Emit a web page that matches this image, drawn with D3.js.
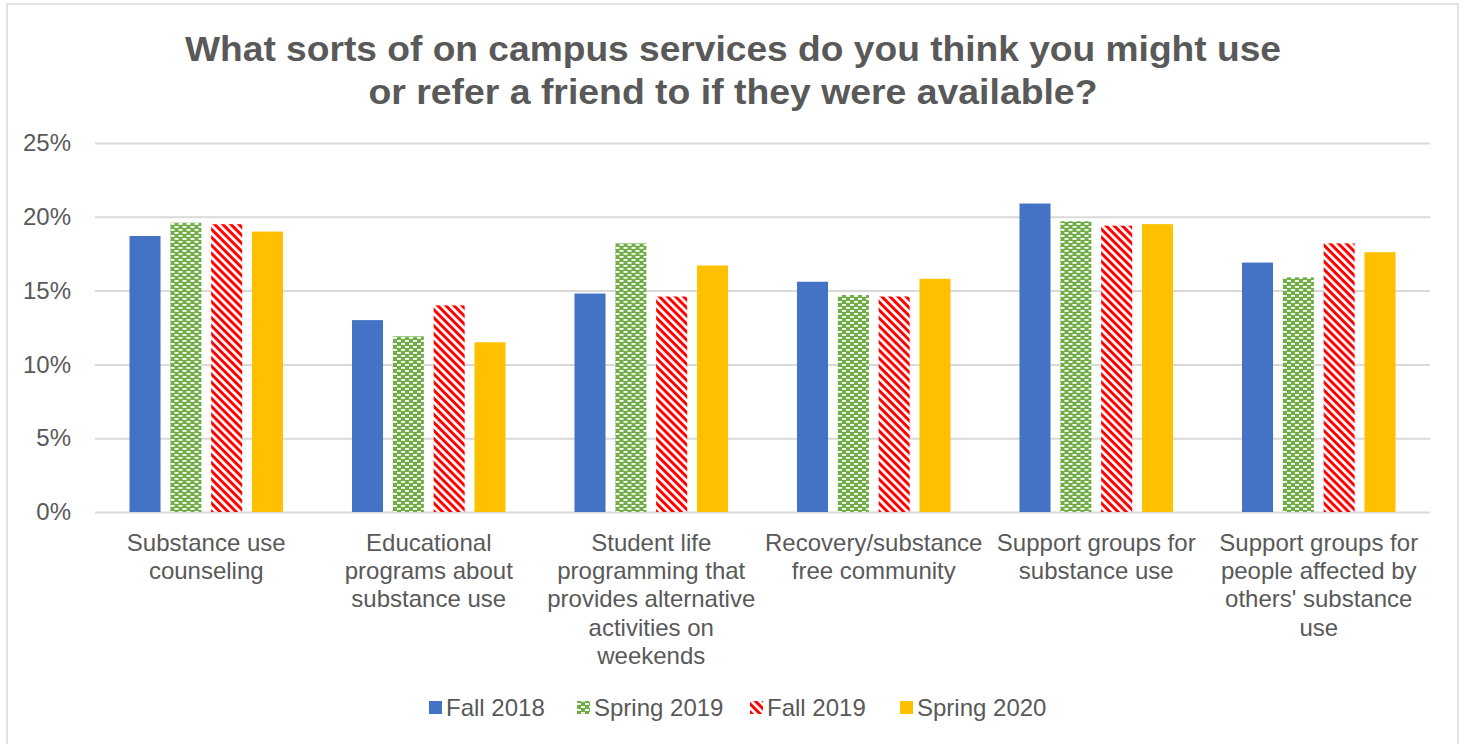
<!DOCTYPE html>
<html>
<head>
<meta charset="utf-8">
<script src="https://cdn.jsdelivr.net/npm/d3@7"></script>
<style>
  html, body { margin: 0; padding: 0; background: #fff; }
  svg { display: block; font-family: "Liberation Sans", Arial, sans-serif; }
</style>
</head>
<body>
<svg id="chart" width="1465" height="744"></svg>
<script>
// Survey responses by category and term
const categories = [
  ["Substance use", "counseling"],
  ["Educational", "programs about", "substance use"],
  ["Student life", "programming that", "provides alternative", "activities on", "weekends"],
  ["Recovery/substance", "free community"],
  ["Support groups for", "substance use"],
  ["Support groups for", "people affected by", "others' substance", "use"]
];
const seriesNames = ["Fall 2018", "Spring 2019", "Fall 2019", "Spring 2020"];
const fall2018   = [0.187, 0.130, 0.148, 0.156, 0.209, 0.169];
const spring2019 = [0.196, 0.119, 0.182, 0.147, 0.197, 0.159];
const fall2019   = [0.195, 0.140, 0.146, 0.146, 0.194, 0.182];
const spring2020 = [0.190, 0.115, 0.167, 0.158, 0.195, 0.176];
const yTicks = [0, 0.05, 0.10, 0.15, 0.20, 0.25];
const titleLines = ["What sorts of on campus services do you think you might use",
                    "or refer a friend to if they were available?"];

const seriesValues = [fall2018, spring2019, fall2019, spring2020];
const fills = ["#4472C4", "url(#patGreen)", "url(#patRed)", "#FFC000"];
const textColor = "#595959";

const svg = d3.select("#chart");
const W = 1465, H = 744;

// Fill patterns: green with white brick dashes, red wide downward diagonal
const defs = svg.append("defs");
const pg = defs.append("pattern").attr("id", "patGreen")
  .attr("patternUnits", "userSpaceOnUse").attr("width", 8).attr("height", 6);
pg.append("rect").attr("width", 8).attr("height", 6).attr("fill", "#70AD47");
pg.append("rect").attr("x", 1).attr("y", 1).attr("width", 4).attr("height", 1.8).attr("fill", "#fff");
pg.append("rect").attr("x", 5).attr("y", 4).attr("width", 4).attr("height", 1.8).attr("fill", "#fff");
pg.append("rect").attr("x", -3).attr("y", 4).attr("width", 4).attr("height", 1.8).attr("fill", "#fff");

const pr = defs.append("pattern").attr("id", "patRed")
  .attr("patternUnits", "userSpaceOnUse").attr("width", 5.7).attr("height", 5.7)
  .attr("patternTransform", "rotate(45)");
pr.append("rect").attr("width", 5.7).attr("height", 5.7).attr("fill", "#fff");
pr.append("rect").attr("x", 0).attr("y", 0).attr("width", 5.7).attr("height", 3).attr("fill", "#FF0000");

// Outer frame
svg.append("rect").attr("x", 7).attr("y", 4).attr("width", 1451).attr("height", 745)
  .attr("fill", "#fff").attr("stroke", "#D9D9D9").attr("stroke-width", 1.5);

// Title
const titleWidths = [1096, 729];
svg.append("g").selectAll("text").data(titleLines).join("text")
  .attr("x", 733).attr("y", (d, i) => 61 + i * 43)
  .attr("text-anchor", "middle")
  .attr("font-size", 35).attr("font-weight", "bold").attr("fill", textColor)
  .attr("textLength", (d, i) => titleWidths[i]).attr("lengthAdjust", "spacingAndGlyphs")
  .text(d => d);

// Scales
const margin = { left: 95, right: 35 };
const x = d3.scaleBand().domain(d3.range(categories.length))
  .range([margin.left, W - margin.right]).paddingInner(0.31).paddingOuter(0.155);
const y = d3.scaleLinear().domain([0, 0.25]).range([512, 143]);
const xs = d3.scaleBand().domain(d3.range(seriesNames.length))
  .range([0, x.bandwidth()]).paddingInner(0.24);

// Gridlines and y axis labels
const yAxis = d3.axisLeft(y).tickValues(yTicks).tickFormat(d3.format(".0%"))
  .tickSize(-(W - margin.right - margin.left)).tickPadding(24);
const gy = svg.append("g").attr("transform", `translate(${margin.left},0)`).call(yAxis);
gy.select(".domain").remove();
gy.selectAll(".tick line").attr("stroke", "#D9D9D9").attr("stroke-width", 2);
gy.selectAll(".tick text").attr("font-size", 24).attr("fill", textColor)
  .attr("font-family", "Liberation Sans, Arial, sans-serif");

// Bars
const groups = svg.append("g").selectAll("g").data(categories).join("g")
  .attr("transform", (d, i) => `translate(${x(i)},0)`);
groups.each(function(c, ci) {
  d3.select(this).selectAll("rect").data(seriesValues.map(s => s[ci])).join("rect")
    .attr("x", (v, si) => xs(si))
    .attr("width", xs.bandwidth())
    .attr("y", v => y(v))
    .attr("height", v => y(0) - y(v))
    .attr("fill", (v, si) => fills[si]);
});

// Category labels
const xl = svg.append("g");
categories.forEach((lines, i) => {
  const cx = x(i) + x.bandwidth() / 2;
  xl.append("text").attr("text-anchor", "middle")
    .attr("font-size", 24).attr("fill", textColor)
    .selectAll("tspan").data(lines).join("tspan")
    .attr("x", cx).attr("y", (d, j) => 551 + j * 28.2)
    .text(d => d);
});

// Legend
const legendX = [429, 577, 750, 900];
const lg = svg.append("g");
seriesNames.forEach((name, i) => {
  lg.append("rect").attr("x", legendX[i]).attr("y", 701).attr("width", 13).attr("height", 13)
    .attr("fill", fills[i]);
  lg.append("text").attr("x", legendX[i] + 17).attr("y", 716)
    .attr("font-size", 24).attr("fill", textColor).text(name);
});
</script>
</body>
</html>
